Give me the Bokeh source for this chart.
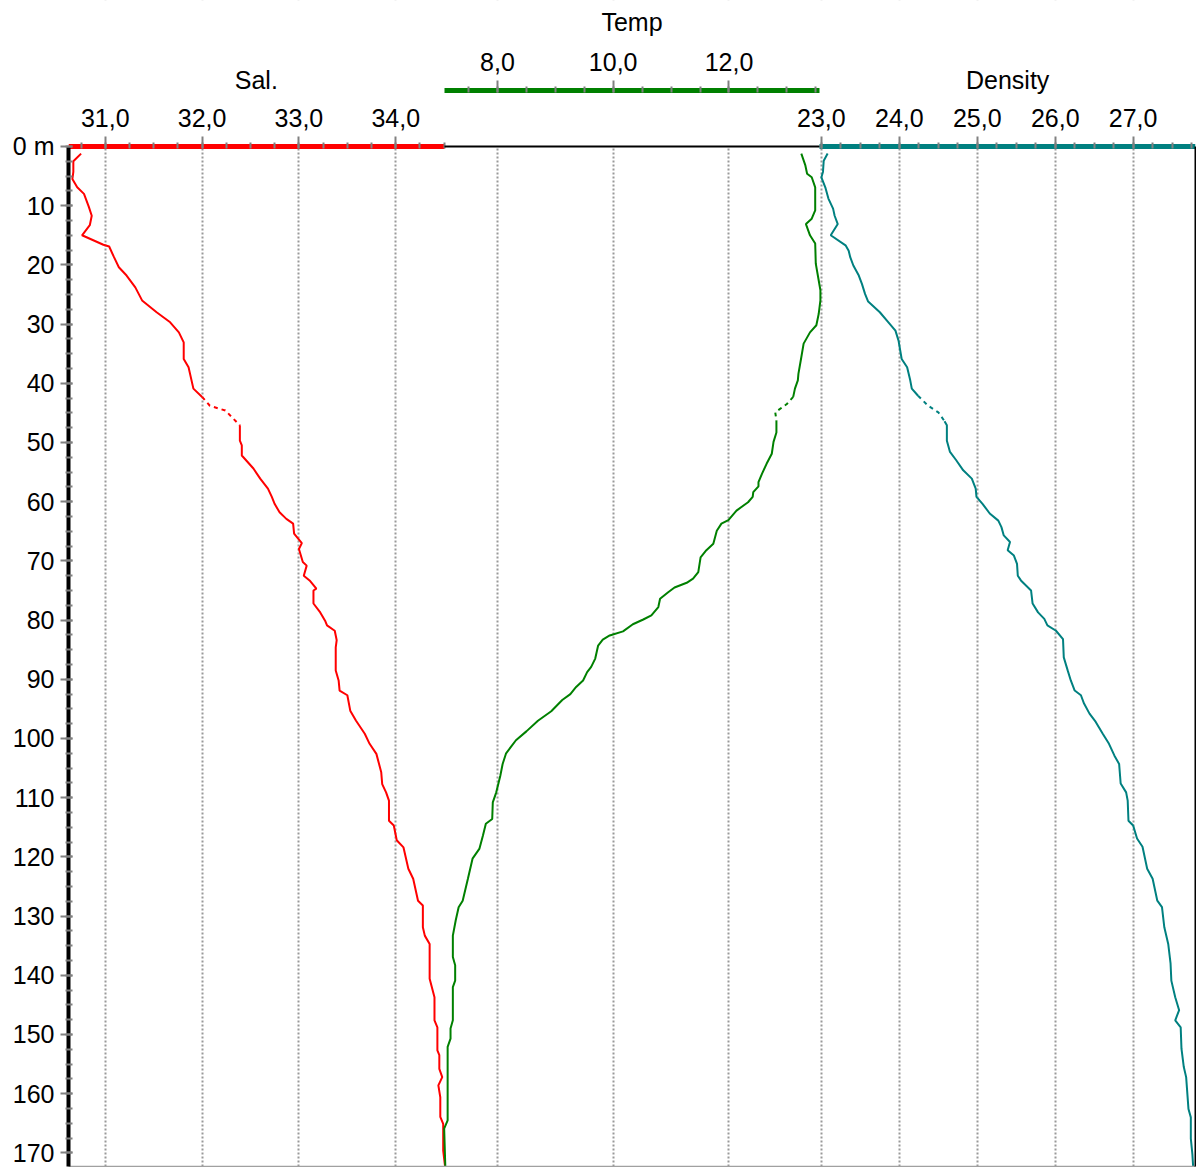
import numpy as np
from bokeh.plotting import figure
from bokeh.models import (Range1d, LinearAxis, FixedTicker, CustomJSTickFormatter,
                          Grid, Label, BoxAnnotation)
from bokeh.embed import file_html
from bokeh.resources import INLINE

# ---------------- data ----------------
sal_depth = [1.2, 2.5, 4.3, 5.5, 6.9, 8.0, 10.2, 11.7, 13.3, 15.0, 16.6, 16.9, 18.7, 20.4,
             21.8, 23.8, 26.0, 28.0, 29.7, 31.4, 33.1, 35.9, 37.3, 40.9, 42.3, 43.8, 44.6,
             47.1, 49.7, 50.5, 52.2, 54.4, 56.1, 57.8, 59.2, 60.4, 61.8, 62.9, 63.7, 65.4,
             67.0, 68.0, 70.2, 70.8, 72.5, 73.3, 74.7, 75.0, 77.2, 78.7, 80.1, 80.9, 81.8,
             83.4, 84.6, 88.5, 90.2, 91.9, 92.7, 95.3, 97.0, 99.2, 100.9, 102.6, 105.7,
             107.7, 109.1, 110.5, 113.9, 114.7, 117.2, 118.4, 122.0, 123.7, 127.4, 128.2,
             131.9, 133.3, 134.7, 140.6, 143.7, 147.6, 148.8, 152.7, 153.5, 155.8, 157.2,
             158.6, 160.6, 163.9, 165.1, 169.6, 172.4]
sal_value = [30.75, 30.67, 30.67, 30.66, 30.71, 30.78, 30.83, 30.86, 30.84, 30.76, 30.98,
             31.04, 31.09, 31.14, 31.22, 31.31, 31.38, 31.53, 31.67, 31.76, 31.81, 31.81,
             31.86, 31.91, 32.00, 32.08, 32.24, 32.39, 32.39, 32.41, 32.41, 32.53, 32.60,
             32.68, 32.72, 32.75, 32.80, 32.87, 32.94, 32.95, 33.03, 33.00, 33.04, 33.08,
             33.05, 33.11, 33.18, 33.15, 33.15, 33.22, 33.27, 33.29, 33.37, 33.39, 33.38,
             33.38, 33.41, 33.42, 33.50, 33.53, 33.59, 33.68, 33.73, 33.80, 33.85, 33.86,
             33.90, 33.93, 33.93, 33.98, 34.01, 34.08, 34.13, 34.18, 34.23, 34.28, 34.28,
             34.30, 34.35, 34.35, 34.40, 34.40, 34.43, 34.43, 34.45, 34.45, 34.48, 34.44,
             34.46, 34.46, 34.49, 34.49, 34.51]
sal_gap = (42.3, 47.1)

temp_depth = [1.2, 3.2, 4.6, 5.2, 6.9, 10.8, 12.2, 13.1, 15.0, 16.4, 19.8, 22.6, 24.3, 26.0,
              28.3, 30.2, 31.4, 33.3, 35.6, 38.4, 39.5, 40.9, 42.3, 43.5, 44.9, 46.3, 48.3,
              49.9, 51.9, 53.6, 55.3, 56.7, 57.4, 58.4, 59.2, 60.1, 61.5, 63.1, 63.7, 64.9,
              67.1, 68.2, 69.4, 71.9, 73.0, 73.7, 74.5, 75.3, 76.4, 77.8, 79.2, 79.9, 80.7,
              81.9, 82.6, 83.3, 84.3, 86.5, 87.9, 88.8, 90.2, 91.3, 92.5, 93.5, 95.4, 97.0,
              98.8, 100.3, 102.5, 104.3, 106.3, 109.1, 110.8, 113.6, 114.4, 116.4, 118.6,
              120.3, 123.7, 127.4, 128.5, 130.7, 133.3, 136.9, 138.3, 140.9, 142.0, 147.6,
              149.0, 150.7, 152.1, 164.5, 165.9, 172.4]
temp_value = [13.25, 13.32, 13.35, 13.43, 13.49, 13.49, 13.43, 13.33, 13.40, 13.49, 13.50,
              13.55, 13.58, 13.58, 13.55, 13.51, 13.40, 13.29, 13.25, 13.20, 13.19, 13.14,
              13.11, 13.00, 12.80, 12.82, 12.82, 12.77, 12.74, 12.65, 12.57, 12.51, 12.51,
              12.42, 12.41, 12.33, 12.13, 11.99, 11.87, 11.79, 11.73, 11.61, 11.51, 11.47,
              11.38, 11.27, 11.06, 10.95, 10.81, 10.78, 10.66, 10.52, 10.34, 10.17, 9.94,
              9.82, 9.74, 9.69, 9.62, 9.55, 9.48, 9.36, 9.26, 9.12, 8.93, 8.70, 8.50, 8.32,
              8.15, 8.09, 8.05, 7.98, 7.92, 7.91, 7.80, 7.75, 7.69, 7.57, 7.49, 7.40, 7.33,
              7.28, 7.23, 7.23, 7.27, 7.27, 7.23, 7.23, 7.19, 7.19, 7.14, 7.14, 7.08, 7.10]
temp_gap = (42.3, 46.3)

dens_depth = [1.2, 2.4, 4.3, 5.2, 6.9, 8.8, 10.5, 11.7, 13.1, 15.0, 16.7, 17.6, 18.7, 20.1,
              21.8, 23.2, 24.9, 26.2, 28.0, 29.7, 31.1, 32.8, 35.9, 37.3, 39.5, 40.9, 42.1,
              43.8, 44.9, 46.4, 47.1, 49.7, 51.6, 53.0, 54.7, 56.1, 57.8, 59.2, 60.4, 62.0,
              63.2, 64.3, 65.7, 66.8, 68.2, 69.1, 70.5, 72.5, 73.3, 75.0, 77.2, 78.7, 79.8,
              80.9, 81.8, 83.2, 86.3, 88.5, 90.2, 91.9, 92.7, 94.1, 95.8, 97.2, 99.2, 100.9,
              102.9, 104.3, 107.6, 109.1, 110.5, 113.9, 114.7, 116.9, 118.3, 122.0, 123.7,
              127.4, 128.5, 131.9, 134.7, 138.0, 140.9, 143.7, 145.9, 147.6, 148.8, 152.4,
              155.5, 157.2, 162.6, 164.0, 167.6, 170.2, 172.4]
dens_value = [23.08, 23.03, 23.02, 23.00, 23.05, 23.09, 23.15, 23.17, 23.21, 23.12, 23.31,
              23.35, 23.37, 23.41, 23.48, 23.52, 23.56, 23.60, 23.75, 23.86, 23.95, 23.99,
              24.03, 24.10, 24.14, 24.16, 24.24, 24.37, 24.50, 24.58, 24.61, 24.61, 24.65,
              24.73, 24.82, 24.93, 24.98, 24.99, 25.07, 25.16, 25.27, 25.31, 25.34, 25.42,
              25.39, 25.47, 25.51, 25.52, 25.56, 25.69, 25.71, 25.78, 25.86, 25.90, 26.01,
              26.10, 26.11, 26.16, 26.20, 26.25, 26.33, 26.37, 26.44, 26.52, 26.61, 26.69,
              26.76, 26.82, 26.84, 26.91, 26.93, 26.94, 27.00, 27.05, 27.12, 27.18, 27.25,
              27.31, 27.37, 27.40, 27.45, 27.48, 27.49, 27.54, 27.59, 27.54, 27.61, 27.62,
              27.65, 27.68, 27.71, 27.74, 27.74, 27.76, 27.77]
dens_gap = (42.1, 46.4)

# axis extents and ticks
sal_bounds = (30.62, 34.50)
temp_bounds = (7.08, 13.57)
dens_bounds = (22.98, 27.80)
sal_major = [31, 32, 33, 34]
temp_major = [8, 10, 12]
dens_major = [23, 24, 25, 26, 27]
depth_major = list(range(0, 171, 10))

# ---------------- layout / styling ----------------
Y_TOP = -24.66        # header area above the surface (depth units)
Y_BOTTOM = 172.3
TEMP_AXIS_AT = -9.46
TITLE_LOW = -11.15
TITLE_HIGH = -20.95

FONT = "Liberation Sans"
FS = "25px"
RED, GREEN, TEAL = "#ff0000", "#008000", "#008080"
TICK = "#808080"


def third_range(bounds, k):
    lo, hi = bounds
    span = hi - lo
    return Range1d(lo - k * span, hi + (2 - k) * span)


sal_range = third_range(sal_bounds, 0)
p = figure(width=1196, height=1167, output_backend="svg", toolbar_location=None,
           x_range=sal_range, y_range=Range1d(Y_BOTTOM, Y_TOP),
           x_axis_location=None, y_axis_location="left",
           min_border_left=68, min_border_top=0, min_border_right=1, min_border_bottom=1)
p.extra_x_ranges = {"temp": third_range(temp_bounds, 1), "dens": third_range(dens_bounds, 2)}
p.grid.visible = False
p.outline_line_color = None
p.background_fill_color = "white"
p.border_fill_color = "white"

fmt = CustomJSTickFormatter(code="return tick.toFixed(1).replace('.', ',');")


def style_axis(ax, color):
    ax.axis_line_color = color
    ax.axis_line_width = 5
    ax.major_tick_line_color = TICK
    ax.major_tick_line_width = 2
    ax.minor_tick_line_color = TICK
    ax.minor_tick_line_width = 2
    ax.major_tick_out = 10
    ax.major_tick_in = 2
    ax.minor_tick_out = 4
    ax.minor_tick_in = 2
    ax.major_label_text_font = FONT
    ax.major_label_text_font_size = FS
    ax.major_label_text_color = "black"
    ax.major_label_standoff = 9


# y axis (depth)
yax = p.yaxis[0]
yax.bounds = (0, Y_BOTTOM)
yax.ticker = FixedTicker(ticks=depth_major, minor_ticks=list(np.arange(0, 175, 2.5)))
yax.formatter = CustomJSTickFormatter(code="return tick == 0 ? '0 m' : tick.toFixed(0);")
style_axis(yax, "black")
yax.axis_line_width = 4
yax.major_tick_out = 8
yax.major_tick_in = 4
yax.minor_tick_out = 3
yax.minor_tick_in = 4
yax.major_label_standoff = 6

axes_spec = [
    ("default", sal_bounds, sal_major, np.arange(30.75, 34.51, 0.25), RED, 0.0),
    ("temp", temp_bounds, temp_major, np.arange(7.5, 13.51, 0.5), GREEN, TEMP_AXIS_AT),
    ("dens", dens_bounds, dens_major, np.arange(23.0, 27.76, 0.25), TEAL, 0.0),
]
x_axes = []
for rname, bnds, major, minor, color, loc in axes_spec:
    ax = LinearAxis(x_range_name=rname, bounds=bnds, fixed_location=loc,
                    ticker=FixedTicker(ticks=major, minor_ticks=list(minor)),
                    formatter=fmt)
    style_axis(ax, color)
    g = Grid(dimension=0, axis=ax, x_range_name=rname, level="underlay",
             grid_line_color="#999999", grid_line_width=2, grid_line_dash="2 2")
    p.add_layout(g)
    x_axes.append(ax)

# header white-out (drawn after the grids) so that grid lines start at the surface
p.add_layout(BoxAnnotation(left=sal_range.start - 1, right=sal_range.end + 1,
                           top=Y_TOP - 5, bottom=0, fill_color="white", fill_alpha=1,
                           line_color=None, level="underlay"))

for ax in x_axes:
    p.add_layout(ax, "above")

# black frame edge on top of the temperature band, right frame edge, bottom edge
top_edge = LinearAxis(x_range_name="temp", bounds=temp_bounds, fixed_location=0.0,
                      ticker=FixedTicker(ticks=[]), axis_line_color="black",
                      axis_line_width=2, major_tick_line_color=None,
                      minor_tick_line_color=None)
p.add_layout(top_edge, "above")
right_edge = LinearAxis(bounds=(0, Y_BOTTOM), ticker=FixedTicker(ticks=[]),
                        axis_line_color="black", axis_line_width=2,
                        major_tick_out=0, major_tick_in=0, minor_tick_out=0,
                        minor_tick_in=0, major_label_standoff=0)
p.add_layout(right_edge, "right")
bottom_edge = LinearAxis(ticker=FixedTicker(ticks=[]), axis_line_color="#a0a0a0",
                         axis_line_width=1.5, major_tick_out=0, major_tick_in=0,
                         minor_tick_out=0, minor_tick_in=0, major_label_standoff=0)
p.add_layout(bottom_edge, "below")

titles = [("Sal.", "default", sal_bounds, TITLE_LOW),
          ("Temp", "temp", temp_bounds, TITLE_HIGH),
          ("Density", "dens", dens_bounds, TITLE_LOW)]
for txt, rname, bnds, zy in titles:
    p.add_layout(Label(x=(bnds[0] + bnds[1]) / 2, y=zy, x_range_name=rname, text=txt,
                       text_align="center", text_baseline="middle",
                       text_font=FONT, text_font_size=FS, text_color="black"))


def draw(depth, val, gap, color, rname):
    d = np.array(depth)
    v = np.array(val)
    up = d <= gap[0]
    lo = d >= gap[1]
    mid = (d >= gap[0]) & (d <= gap[1])
    kw = dict(x_range_name=rname, line_color=color, line_width=2)
    p.line(v[up], d[up], **kw)
    p.line(v[lo], d[lo], **kw)
    p.line(v[mid], d[mid], line_dash="4 4", **kw)


draw(sal_depth, sal_value, sal_gap, RED, "default")
draw(temp_depth, temp_value, temp_gap, GREEN, "temp")
draw(dens_depth, dens_value, dens_gap, TEAL, "dens")

open("out.html", "w").write(file_html(p, INLINE))
